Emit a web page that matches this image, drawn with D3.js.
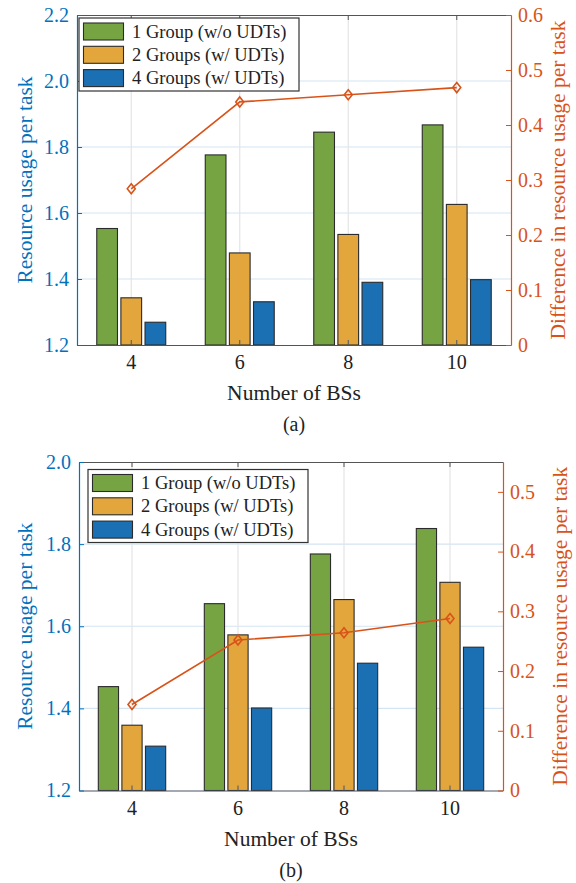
<!DOCTYPE html>
<html>
<head>
<meta charset="utf-8">
<script src="https://cdn.jsdelivr.net/npm/d3@7"></script>
<style>
  body { margin: 0; background: #fff; }
  svg { display: block; }
  svg text { font-family: "Liberation Serif", Tinos, "Times New Roman", "DejaVu Serif", serif; }
</style>
</head>
<body>
<div id="chart"></div>
<script>
// ---- data ----
const bsCounts = [4, 6, 8, 10];
const seriesNames = ['1 Group (w/o UDTs)', '2 Groups (w/ UDTs)', '4 Groups (w/ UDTs)'];

// panel (a)
const usageA1 = [1.553, 1.776, 1.845, 1.867];
const usageA2 = [1.343, 1.479, 1.535, 1.626];
const usageA4 = [1.269, 1.331, 1.390, 1.398];
const diffA = [0.284, 0.442, 0.455, 0.468];
const leftTicksA = [1.2, 1.4, 1.6, 1.8, 2.0, 2.2];
const rightTicksA = [0, 0.1, 0.2, 0.3, 0.4, 0.5, 0.6];

// panel (b)
const usageB1 = [1.453, 1.655, 1.776, 1.838];
const usageB2 = [1.359, 1.579, 1.665, 1.707];
const usageB4 = [1.308, 1.401, 1.510, 1.549];
const diffB = [0.144, 0.252, 0.264, 0.288];
const leftTicksB = [1.2, 1.4, 1.6, 1.8, 2.0];
const rightTicksB = [0, 0.1, 0.2, 0.3, 0.4, 0.5];

const barColors = ['#77A443', '#E2A63D', '#1B6FB3'];
const blue = '#0072BD';
const red = '#D95319';

const svg = d3.select('#chart').append('svg')
  .attr('width', 576).attr('height', 883);

function drawPanel(p) {
  const { left, right, top, bottom } = p;
  const g = svg.append('g');

  const x = d3.scaleBand().domain(bsCounts).range([left, right]);
  const xSub = d3.scaleBand().domain(d3.range(3))
    .range([0, x.bandwidth() * 0.645]).paddingInner(0.1);
  const subOff = (x.bandwidth() - x.bandwidth() * 0.645) / 2;
  const y = d3.scaleLinear().domain(p.leftDomain).range([bottom, top]);
  const y2 = d3.scaleLinear().domain(p.rightDomain).range([bottom, top]);

  // grid
  g.selectAll('.hgrid').data(p.leftTicks.slice(1, -1)).join('line')
    .attr('x1', left).attr('x2', right)
    .attr('y1', d => y(d)).attr('y2', d => y(d))
    .attr('stroke', '#D3E5F2').attr('stroke-width', 1.2);
  g.selectAll('.vgrid').data(bsCounts).join('line')
    .attr('x1', d => x(d) + x.bandwidth() / 2).attr('x2', d => x(d) + x.bandwidth() / 2)
    .attr('y1', top).attr('y2', bottom)
    .attr('stroke', '#E4E4E4').attr('stroke-width', 1.2);

  // bars
  p.series.forEach((vals, si) => {
    g.selectAll(null).data(vals).join('rect')
      .attr('x', (d, i) => x(bsCounts[i]) + subOff + xSub(si) + 0.5)
      .attr('width', xSub.bandwidth() - 1)
      .attr('y', d => y(d))
      .attr('height', d => bottom - y(d))
      .attr('fill', barColors[si])
      .attr('stroke', '#2b2b2b')
      .attr('stroke-width', 1.1);
  });

  // axes
  const xAxis = d3.axisBottom(x).tickSizeInner(-5).tickSizeOuter(0).tickPadding(10);
  g.append('g').attr('transform', `translate(0,${bottom})`).call(xAxis)
    .attr('font-family', null)
    .call(a => a.select('.domain').attr('stroke', '#4a5565').attr('stroke-width', 1.2))
    .call(a => a.selectAll('.tick line').attr('stroke', '#4a5565'))
    .call(a => a.selectAll('.tick text').attr('font-size', 20).attr('fill', '#222'));

  // top box edge with inward ticks
  g.append('g').attr('transform', `translate(0,${top})`)
    .call(d3.axisTop(x).tickSizeInner(-5).tickSizeOuter(0).tickFormat(''))
    .call(a => a.select('.domain').attr('stroke', '#555').attr('stroke-width', 1.2))
    .call(a => a.selectAll('.tick line').attr('stroke', '#555'));

  g.append('g').attr('transform', `translate(${left},0)`)
    .call(d3.axisLeft(y).tickValues(p.leftTicks).tickSizeInner(-5).tickSizeOuter(0)
      .tickPadding(8).tickFormat(d => d.toFixed(1)))
    .attr('font-family', null)
    .call(a => a.select('.domain').attr('stroke', blue).attr('stroke-width', 1.2))
    .call(a => a.selectAll('.tick line').attr('stroke', blue))
    .call(a => a.selectAll('.tick text').attr('font-size', 20).attr('fill', blue));

  g.append('g').attr('transform', `translate(${right},0)`)
    .call(d3.axisRight(y2).tickValues(p.rightTicks).tickSizeInner(-5).tickSizeOuter(0)
      .tickPadding(7).tickFormat(d => d === 0 ? '0' : d.toFixed(1)))
    .attr('font-family', null)
    .call(a => a.select('.domain').attr('stroke', red).attr('stroke-width', 1.2))
    .call(a => a.selectAll('.tick line').attr('stroke', red))
    .call(a => a.selectAll('.tick text').attr('font-size', 20).attr('fill', red));

  // difference line
  const line = d3.line()
    .x((d, i) => x(bsCounts[i]) + x.bandwidth() / 2)
    .y(d => y2(d));
  g.append('path').datum(p.diff)
    .attr('d', line).attr('fill', 'none')
    .attr('stroke', red).attr('stroke-width', 1.6);
  g.selectAll(null).data(p.diff).join('path')
    .attr('transform', (d, i) => `translate(${x(bsCounts[i]) + x.bandwidth() / 2},${y2(d)})`)
    .attr('d', 'M0,-5L4,0L0,5L-4,0Z')
    .attr('fill', 'none').attr('stroke', red).attr('stroke-width', 1.6);

  // axis titles
  g.append('text')
    .attr('transform', `translate(25,${(top + bottom) / 2}) rotate(-90)`)
    .attr('text-anchor', 'middle').attr('dominant-baseline', 'central')
    .attr('font-size', 21.5).attr('fill', blue)
    .text('Resource usage per task');
  g.append('text')
    .attr('transform', `translate(${p.rightTitleX},${(top + bottom) / 2}) rotate(-90)`)
    .attr('text-anchor', 'middle').attr('dominant-baseline', 'central')
    .attr('font-size', 21.5).attr('fill', red)
    .text('Difference in resource usage per task');
  g.append('text')
    .attr('x', (left + right) / 2).attr('y', bottom + 55)
    .attr('text-anchor', 'middle')
    .attr('font-size', 21.5).attr('fill', '#222')
    .text('Number of BSs');
  g.append('text')
    .attr('x', (left + right) / 2).attr('y', bottom + 86)
    .attr('text-anchor', 'middle')
    .attr('font-size', 20).attr('fill', '#222')
    .text(p.caption);

  // legend
  const lg = g.append('g').attr('transform', `translate(${p.legendX},${p.legendY})`);
  lg.append('rect').attr('width', 220).attr('height', 73)
    .attr('fill', '#fff').attr('stroke', '#333').attr('stroke-width', 1.2);
  seriesNames.forEach((name, i) => {
    const cy = 13.5 + i * 23.3;
    lg.append('rect').attr('x', 4.5).attr('y', cy - 8.5).attr('width', 40).attr('height', 17)
      .attr('fill', barColors[i]).attr('stroke', '#2b2b2b').attr('stroke-width', 1.1);
    lg.append('text').attr('x', 53).attr('y', cy)
      .attr('dominant-baseline', 'central')
      .attr('font-size', 18.5).attr('fill', '#222')
      .text(name);
  });
}

drawPanel({
  left: 77, right: 511, top: 15, bottom: 345,
  leftDomain: [1.2, 2.2], rightDomain: [0, 0.6],
  leftTicks: leftTicksA, rightTicks: rightTicksA,
  series: [usageA1, usageA2, usageA4], diff: diffA,
  rightTitleX: 558, caption: '(a)', legendX: 79, legendY: 18
});

drawPanel({
  left: 79, right: 503, top: 462, bottom: 790.5,
  leftDomain: [1.2, 2.0], rightDomain: [0, 0.55],
  leftTicks: leftTicksB, rightTicks: rightTicksB,
  series: [usageB1, usageB2, usageB4], diff: diffB,
  rightTitleX: 560, caption: '(b)', legendX: 88, legendY: 469.5
});
</script>
</body>
</html>
